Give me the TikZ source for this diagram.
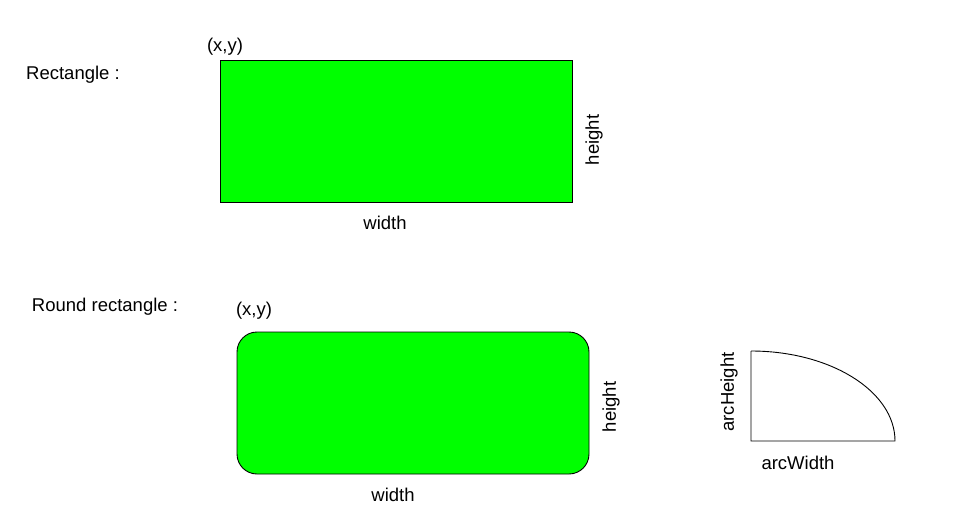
\documentclass[tikz,border=0pt]{standalone}
\usepackage{fontspec}
\setmainfont{Liberation Sans}
\usetikzlibrary{positioning}

\begin{document}
\begin{tikzpicture}[x=1pt, y=-1pt,
      box/.style={rectangle, draw, fill=shapegreen, line width=0.9pt, minimum width=352pt, minimum height=142pt, inner sep=0pt},
      roundbox/.style={box, rounded corners=20pt},
      lbl/.style={inner sep=0pt, font=\fontsize{18.5}{22}\selectfont},
      vlbl/.style={lbl, rotate=90}]
      \definecolor{shapegreen}{RGB}{0,255,0}
      \useasboundingbox (0,0) rectangle (960,532);

      % Plain rectangle
      \node[lbl] (titlerect) at (73,75) {Rectangle :};
      \node[box] (rect) at (396,131) {};
      \node[lbl] (xyrect) at (225,47) {(x,y)};
      \node[vlbl] (hrect) at (594,140) {height};
      \node[lbl] (wrect) at (385,223) {width};

      % Round rectangle
      \node[lbl] (titleround) at (105,307) {Round rectangle :};
      \node[roundbox] (round) at (413,403) {};
      \node[lbl] (xyround) at (254,311) {(x,y)};
      \node[vlbl] (hround) at (611,407) {height};
      \node[lbl] (wround) at (393,495) {width};

      % Arc
      \coordinate (arctop) at (751,351);
      \coordinate (arcorigin) at (751,441);
      \coordinate (arcright) at (895,441);
      \draw[line width=0.9pt] (arctop) -- (arcorigin) -- (arcright)
        arc[start angle=0, end angle=90, x radius=144pt, y radius=90pt];
      \node[vlbl] (harc) at (729,392) {arcHeight};
      \node[lbl] (warc) at (798,463) {arcWidth};
    \end{tikzpicture}
\end{document}
